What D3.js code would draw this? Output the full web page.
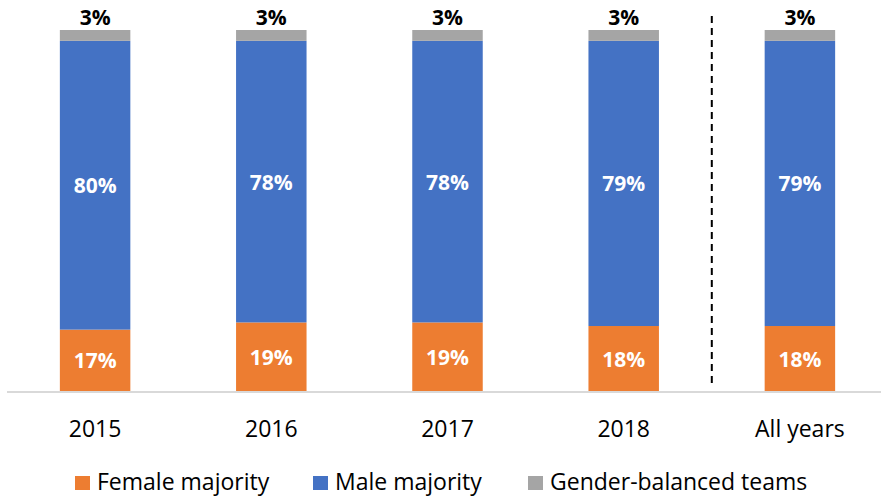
<!DOCTYPE html>
<html lang="en">
<head>
<meta charset="utf-8">
<script src="https://d3js.org/d3.v7.min.js"></script>
<style type="text/css">
body {
  margin: 0;
  background-color: #ffffff;
}
svg text {
  font-family: "Open Sans", "Noto Sans", sans-serif;
}
</style>
</head>
<body>
<script type="text/javascript">

// Chart data
var categories = ["2015", "2016", "2017", "2018", "All years"];
var female = [17, 19, 19, 18, 18];
var male = [80, 78, 78, 79, 79];
var balanced = [3, 3, 3, 3, 3];
var seriesNames = ["Female majority", "Male majority", "Gender-balanced teams"];
var colors = ["#ed7d31", "#4472c4", "#a5a5a5"];

var width = 881, height = 497;
var baseY = 391, topY = 30;

var svg = d3.select("body")
  .append("svg")
  .attr("width", width)
  .attr("height", height);

var x = d3.scaleBand()
  .domain(categories)
  .range([7, 888])
  .paddingInner(0.6)
  .paddingOuter(0.3);

var y = d3.scaleLinear()
  .domain([0, 100])
  .range([baseY, topY]);

// stack the three series
var rows = categories.map(function(c, i) {
  return { cat: c, female: female[i], male: male[i], balanced: balanced[i] };
});
var stack = d3.stack().keys(["female", "male", "balanced"]);
var layers = stack(rows);

var g = svg.selectAll("g.layer")
  .data(layers)
  .enter().append("g")
  .attr("class", "layer")
  .attr("fill", function(d, i) { return colors[i]; });

g.selectAll("rect")
  .data(function(d) { return d; })
  .enter().append("rect")
  .attr("x", function(d) { return x(d.data.cat); })
  .attr("width", x.bandwidth())
  .attr("y", function(d) { return y(d[1]); })
  .attr("height", function(d) { return y(d[0]) - y(d[1]); });

// white labels inside female and male segments
layers.slice(0, 2).forEach(function(layer) {
  svg.append("g").selectAll("text")
    .data(layer)
    .enter().append("text")
    .attr("x", function(d) { return x(d.data.cat) + x.bandwidth() / 2; })
    .attr("y", function(d) { return (y(d[0]) + y(d[1])) / 2 + 8; })
    .attr("text-anchor", "middle")
    .style("font-size", "21px")
    .style("font-weight", "bold")
    .style("fill", "#ffffff")
    .text(function(d) { return (d[1] - d[0]) + "%"; });
});

// black labels above gender-balanced segment
svg.append("g").selectAll("text")
  .data(layers[2])
  .enter().append("text")
  .attr("x", function(d) { return x(d.data.cat) + x.bandwidth() / 2; })
  .attr("y", function(d) { return y(d[1]) - 5; })
  .attr("text-anchor", "middle")
  .style("font-size", "21px")
  .style("font-weight", "bold")
  .style("fill", "#000000")
  .text(function(d) { return (d[1] - d[0]) + "%"; });

// x axis line
svg.append("line")
  .attr("x1", 7).attr("x2", width)
  .attr("y1", baseY + 1).attr("y2", baseY + 1)
  .style("stroke", "#d9d9d9")
  .style("stroke-width", 2);

// category labels
svg.append("g").selectAll("text")
  .data(categories)
  .enter().append("text")
  .attr("x", function(d) { return x(d) + x.bandwidth() / 2; })
  .attr("y", 437)
  .attr("text-anchor", "middle")
  .style("font-size", "23px")
  .style("fill", "#000000")
  .text(function(d) { return d; });

// dashed separator before "All years"
var sepX = (x("2018") + x.bandwidth() + x("All years")) / 2;
svg.append("line")
  .attr("x1", sepX).attr("x2", sepX)
  .attr("y1", 16).attr("y2", 388)
  .style("stroke", "#000000")
  .style("stroke-width", 2)
  .style("stroke-dasharray", "7,5");

// legend
var legendX = [75, 313, 528];
var legend = svg.append("g").selectAll("g")
  .data(seriesNames)
  .enter().append("g")
  .attr("transform", function(d, i) { return "translate(" + legendX[i] + ",476)"; });

legend.append("rect")
  .attr("width", 15)
  .attr("height", 14)
  .attr("fill", function(d, i) { return colors[i]; });

legend.append("text")
  .attr("x", 22)
  .attr("y", 14)
  .style("font-size", "23px")
  .style("fill", "#000000")
  .text(function(d) { return d; });

</script>
</body>
</html>
